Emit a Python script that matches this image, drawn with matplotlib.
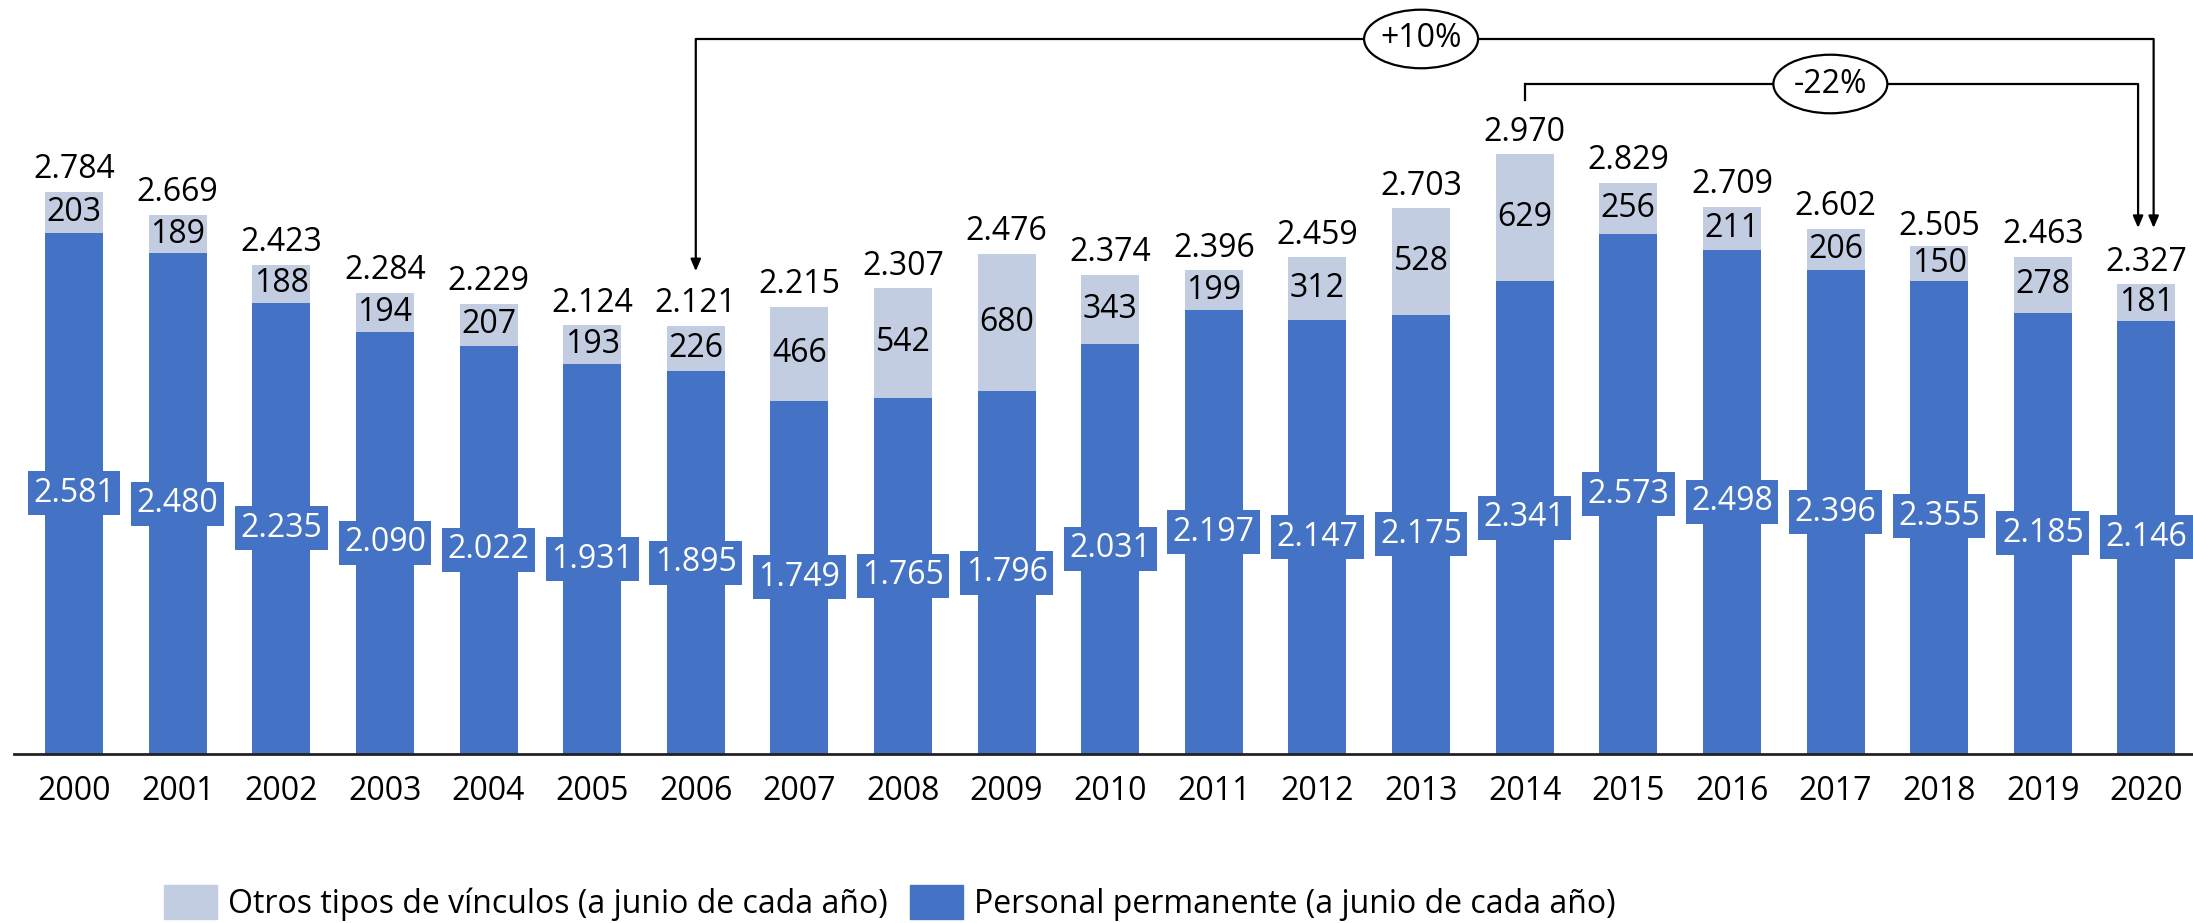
import matplotlib
matplotlib.use('Agg')
import matplotlib.pyplot as plt
import matplotlib.patches as mpatches
import numpy as np

# ── data (a junio de cada año) ──────────────────────────────────────────
years = [str(y) for y in range(2000, 2021)]
permanente = [2581, 2480, 2235, 2090, 2022, 1931, 1895, 1749, 1765, 1796, 2031,
              2197, 2147, 2175, 2341, 2573, 2498, 2396, 2355, 2185, 2146]
otros = [203, 189, 188, 194, 207, 193, 226, 466, 542, 680, 343,
         199, 312, 528, 629, 256, 211, 206, 150, 278, 181]
variaciones = [("+10%", 2006, 2020), ("-22%", 2014, 2020)]

BLUE = '#4472C4'
GREY = '#C3CDE1'
FONT = 'Open Sans'
FS = 23

plt.rcParams['font.family'] = [FONT, 'DejaVu Sans']


def fmt(v):
    return f"{v:,}".replace(',', '.')


fig = plt.figure(figsize=(21.93, 9.23), dpi=100)
ax = fig.add_axes([14 / 2193, 169 / 923, 1 - 14 / 2193, 754 / 923])

x = np.arange(len(years))
perm = np.array(permanente)
otr = np.array(otros)
tot = perm + otr

ax.bar(x, perm, width=0.56, color=BLUE, zorder=2)
ax.bar(x, otr, bottom=perm, width=0.56, color=GREY, zorder=2)

ax.set_xlim(-0.58, 20.45)
ax.set_ylim(0, 3734)

for i in range(len(years)):
    # permanent staff: white label on a blue box
    ax.text(x[i], perm[i] / 2, fmt(perm[i]), ha='center', va='center', fontsize=FS,
            color='white', zorder=4,
            bbox=dict(boxstyle='square,pad=0.17', facecolor=BLUE, edgecolor='none'))
    # other contracts: label in the middle of the grey segment
    ax.text(x[i], perm[i] + otr[i] / 2, fmt(otr[i]), ha='center', va='center', fontsize=FS,
            color='black', zorder=4,
            bbox=dict(boxstyle='square,pad=0.04', facecolor=GREY, edgecolor='none'))
    ax.annotate(fmt(tot[i]), xy=(x[i], tot[i]), xytext=(0, 4), textcoords='offset points',
                ha='center', va='bottom', fontsize=FS, color='black')

# ── variation brackets ──────────────────────────────────────────────────
yi = {y: i for i, y in enumerate(range(2000, 2021))}
levels = [3541, 3318]
ends_dx = [0.07, -0.08]
ell_x = [13.0, 16.95]
for (lab, y0, y1), lev, dx, ex in zip(variaciones, levels, ends_dx, ell_x):
    i0, i1 = yi[y0], yi[y1]
    xr = i1 + dx
    if lab.startswith('+'):
        # arrow going down onto the start year
        ax.annotate('', xy=(i0, tot[i0] + 270), xytext=(i0, lev),
                    arrowprops=dict(arrowstyle='-|>,head_length=0.7,head_width=0.3',
                                    color='black', lw=1.6, shrinkA=0, shrinkB=0))
    else:
        ax.plot([i0, i0], [tot[i0] + 270, lev], color='black', lw=1.6, zorder=3)
    ax.plot([i0, xr], [lev, lev], color='black', lw=1.6, zorder=3, solid_capstyle='butt')
    ax.annotate('', xy=(xr, tot[i1] + 278), xytext=(xr, lev),
                arrowprops=dict(arrowstyle='-|>,head_length=0.7,head_width=0.3',
                                color='black', lw=1.6, shrinkA=0, shrinkB=0))
    ax.add_patch(mpatches.Ellipse((ex, lev), width=1.1, height=290, facecolor='white',
                                  edgecolor='black', lw=1.6, zorder=5))
    ax.text(ex, lev, lab, ha='center', va='center', fontsize=FS, zorder=6)

# ── axes styling ────────────────────────────────────────────────────────
for s in ['top', 'right', 'left']:
    ax.spines[s].set_visible(False)
ax.spines['bottom'].set_linewidth(2)
ax.spines['bottom'].set_color('#222222')
ax.set_yticks([])
ax.set_xticks(x)
ax.set_xticklabels(years, fontsize=FS)
ax.tick_params(axis='x', length=0, pad=15)

handles = [mpatches.Patch(color=GREY, label='Otros tipos de vínculos (a junio de cada año)'),
           mpatches.Patch(color=BLUE, label='Personal permanente (a junio de cada año)')]
fig.legend(handles=handles, loc='center', bbox_to_anchor=(890 / 2193, 1 - 903 / 923),
           ncol=2, frameon=False, fontsize=FS, handlelength=1.65, handleheight=1.25,
           handletextpad=0.35, columnspacing=0.7)

fig.savefig('out.png', dpi=100)
